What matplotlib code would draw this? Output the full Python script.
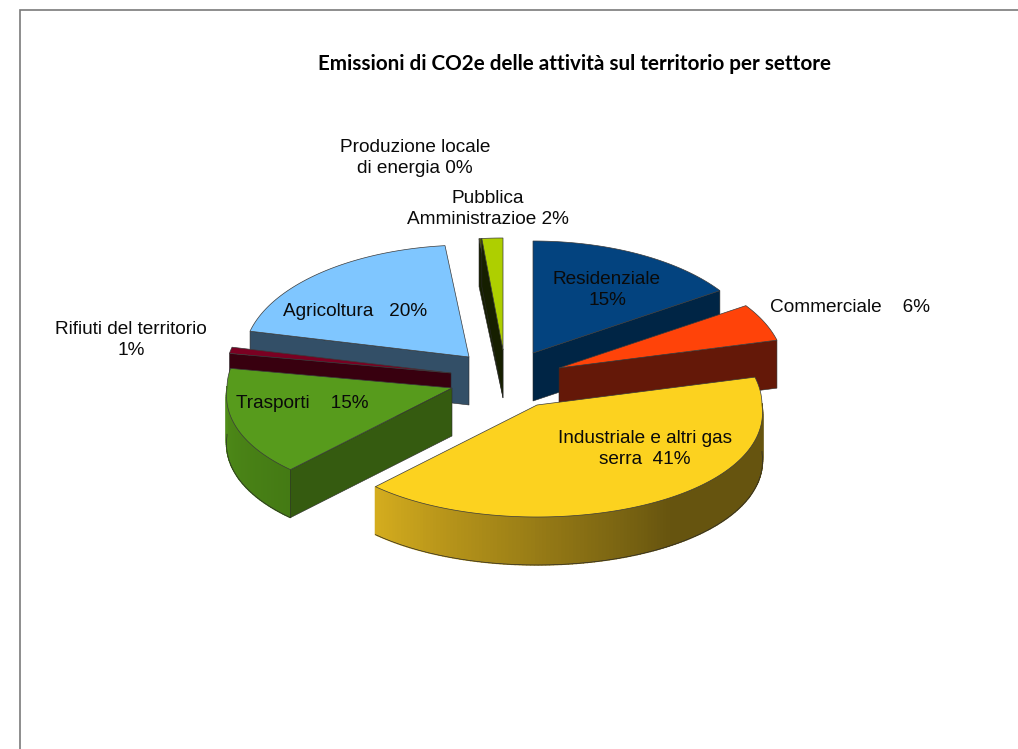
import numpy as np
import matplotlib
matplotlib.use("Agg")
import matplotlib.pyplot as plt
from matplotlib.patches import Polygon

# ---- data (clockwise from 12 o'clock) ----
sectors = ["Residenziale", "Commerciale", "Industriale", "Trasporti", "Rifiuti",
           "Agricoltura", "Produzione", "Pubblica"]
shares = [15.6, 5.4, 41.0, 15.8, 0.9, 19.6, 0.2, 1.5]
label_texts = ["Residenziale\n15%", "Commerciale    6%", "Industriale e altri gas\nserra  41%",
               "Trasporti    15%", "Rifiuti del territorio\n1%", "Agricoltura   20%",
               "Produzione locale\ndi energia 0%", "Pubblica\nAmministrazioe 2%"]
title_text = "Emissioni di CO2e delle attività sul territorio per settore"

# ---- layout / style ----
apex_x = [533, 559, 537, 452, 451, 469, 503, 503]
apex_y = [353, 368, 405, 388, 373, 357, 350, 350]
RX, RY, DEPTH = 225, 112, 48
PERSPECTIVE = 0.0006
top_col = ["#03437F", "#FF4309", "#FCD21F", "#579B1C", "#7A0022", "#7FC6FF", "#4E5A00", "#AECF00"]
face_col = ["#002545", "#641808", "#66540F", "#355B10", "#38000F", "#334F67", "#161F00", "#161F00"]
arc_from = ["#002545", "#641808", "#66540F", "#447A14", "#38000F", "#334F67", "#161F00", "#161F00"]
arc_to = ["#002545", "#641808", "#D4AC1E", "#4F8C18", "#38000F", "#334F67", "#161F00", "#161F00"]
arc_hold = [0, 0, 0.42, 0, 0, 0, 0, 0]
draw_order = [5, 6, 7, 0, 1, 4, 3, 2]
label_x = [607, 850, 645, 302, 131, 355, 415, 488]
label_y = [290, 308, 449, 403, 340, 311, 158, 209]
EDGE = "#2a2a2a"

fig = plt.figure(figsize=(10.18, 7.49), dpi=100, facecolor="white")
ax = fig.add_axes([0, 0, 1, 1])
ax.set_xlim(0, 1018)
ax.set_ylim(749, 0)
ax.axis("off")

# chart frame
ax.plot([20.5, 20.5, 1018], [749, 9.5, 9.5], color="#7a7a7a", lw=1.2, solid_joinstyle="miter")

fractions = np.array(shares) / sum(shares)
ends = np.cumsum(fractions) * 2 * np.pi
starts = np.concatenate([[0], ends[:-1]])


def rim(i, t):
    dy = -RY * np.cos(t)
    return apex_x[i] + RX * np.sin(t) * (1 + PERSPECTIVE * np.maximum(dy, 0)), apex_y[i] + dy


def mix(c1, c2, f):
    a, b = np.array(matplotlib.colors.to_rgb(c1)), np.array(matplotlib.colors.to_rgb(c2))
    return tuple(a + (b - a) * f)


for rank, i in enumerate(draw_order):
    z = 2 + rank * 0.1
    ts = np.linspace(starts[i], ends[i], max(6, int(fractions[i] * 400)))
    xs, ys = rim(i, ts)
    mid = rim(i, (starts[i] + ends[i]) / 2)
    # outer band (front half only), with the lighting gradient
    vis = np.where(np.cos(ts) < 0.02)[0]
    if len(vis) > 1:
        n = len(vis) - 1
        for j, k in enumerate(vis[:-1]):
            g = j / max(n - 1, 1)
            f = max(0.0, (g - arc_hold[i]) / (1 - arc_hold[i]))
            c = mix(arc_from[i], arc_to[i], f)
            quad = [(xs[k], ys[k]), (xs[k + 1], ys[k + 1]),
                    (xs[k + 1], ys[k + 1] + DEPTH), (xs[k], ys[k] + DEPTH)]
            ax.add_patch(Polygon(quad, closed=True, fc=c, ec=c, lw=1.0, zorder=z))
        ax.plot(xs[vis], ys[vis] + DEPTH, color=EDGE, lw=0.5, zorder=z + 0.01)
    # radial faces that look towards the viewer
    for px, py in [(xs[0], ys[0]), (xs[-1], ys[-1])]:
        ex, ey = px - apex_x[i], py - apex_y[i]
        side_down = ex * 1 - ey * 0
        side_top = ex * (mid[1] - apex_y[i]) - ey * (mid[0] - apex_x[i])
        if side_down * side_top < 0:
            quad = [(apex_x[i], apex_y[i]), (px, py), (px, py + DEPTH), (apex_x[i], apex_y[i] + DEPTH)]
            ax.add_patch(Polygon(quad, closed=True, fc=face_col[i], ec=EDGE, lw=0.4, zorder=z + 0.02))
    # top
    top = np.column_stack([np.r_[apex_x[i], xs], np.r_[apex_y[i], ys]])
    ax.add_patch(Polygon(top, closed=True, fc=top_col[i], ec="#3a3a3a", lw=0.5, zorder=z + 0.05))

for s, x, y in zip(label_texts, label_x, label_y):
    ax.text(x, y, s, ha="center", va="center", family="Liberation Sans", fontsize=13.7,
            color="#0a0a0a", linespacing=1.3, zorder=10)

ax.text(575, 64, title_text, ha="center", va="center", family="Lato", fontweight="bold",
        fontsize=14.9, color="black", zorder=10)

fig.savefig("out.png", dpi=100, facecolor="white")
